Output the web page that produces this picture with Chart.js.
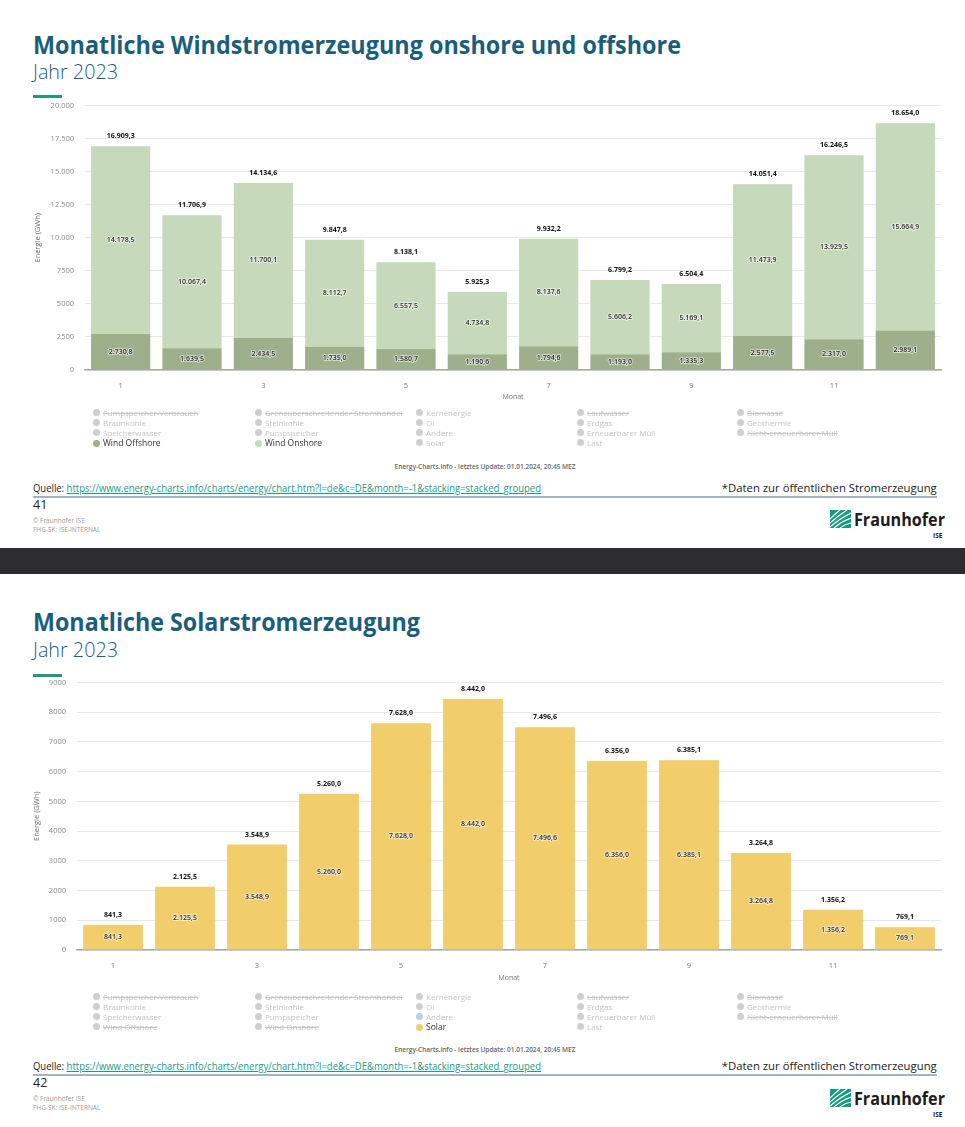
<!DOCTYPE html>
<html><head><meta charset="utf-8">
<script src="https://cdn.jsdelivr.net/npm/chart.js@4.4.1/dist/chart.umd.min.js"></script>
<style>
html,body{margin:0;padding:0;background:#fff;}
body{width:965px;height:1127px;position:relative;overflow:hidden;font-family:"Open Sans",sans-serif;}
.abs{position:absolute;white-space:nowrap;line-height:1;}
.title{font-weight:700;font-size:25px;color:#1b5e7c;transform-origin:left center;}
.sub{font-weight:300;font-size:20px;color:#1b5e7c;transform-origin:left center;}
.accent{height:3px;width:29px;background:#1f9b7a;}
.leg{font-size:8px;color:#c4c4c4;}
.leg .dot{display:inline-block;width:7px;height:7px;border-radius:50%;background:#cfcfcf;position:absolute;left:-10px;top:0px;}
.leg.on{color:#333;font-size:8.5px;}
.leg.strike{text-decoration:line-through;}
.credit{font-size:6.5px;font-weight:600;color:#666;transform:translateX(-50%);}
.src{font-size:11px;color:#222;transform-origin:left center;}
.src a{color:#1a9c84;text-decoration:underline;}
.note{font-size:11px;color:#222;transform-origin:right center;}
.rule{height:2px;background:#a3b3c1;left:33px;width:904px;}
.pnum{font-size:12.5px;color:#222;}
.copy{font-size:6.5px;color:#9a9a9a;}
.logo{font-weight:700;font-size:17.5px;color:#1c1c1c;transform-origin:left center;}
.ise{font-weight:700;font-size:6.5px;color:#1c1c1c;}
.band{left:0;width:965px;background:#2d2d30;}
canvas{position:absolute;}
</style>
</head><body>
<script>
// ---- data ----
const months = ['1','2','3','4','5','6','7','8','9','10','11','12'];
const windOffshore = [2730.8,1639.5,2434.5,1735.0,1580.7,1190.6,1794.6,1193.0,1335.3,2577.5,2317.0,2989.1];
const windOnshore  = [14178.5,10067.4,11700.1,8112.7,6557.5,4734.8,8137.6,5606.2,5169.1,11473.9,13929.5,15664.9];
const windTotal    = [16909.3,11706.9,14134.6,9847.8,8138.1,5925.3,9932.2,6799.2,6504.4,14051.4,16246.5,18654.0];
const solar        = [841.3,2125.5,3548.9,5260.0,7628.0,8442.0,7496.6,6356.0,6385.1,3264.8,1356.2,769.1];
const windTickMax = 20000, windTickStep = 2500;
const solarTickMax = 9000, solarTickStep = 1000;
const legendRows = [
  ['Pumpspeicher-Verbrauch','Grenzüberschreitender Stromhandel','Kernenergie','Laufwasser','Biomasse'],
  ['Braunkohle','Steinkohle','Öl','Erdgas','Geothermie'],
  ['Speicherwasser','Pumpspeicher','Andere','Erneuerbarer Müll','Nicht-erneuerbarer Müll'],
  ['Wind Offshore','Wind Onshore','Solar','Last']
];
const sourceUrl = 'https://www.energy-charts.info/charts/energy/chart.htm?l=de&c=DE&month=-1&stacking=stacked_grouped';

// ---- helpers ----
function groupDots(s){return s.replace(/\B(?=(\d{3})+(?!\d))/g,'.');}
function fmt1(v){const p=v.toFixed(1).split('.');return groupDots(p[0])+','+p[1];}
function fmtTick(v){return v>=10000?groupDots(String(v)):String(v);}
function el(cls,txt,style){const d=document.createElement('div');d.className='abs '+cls;if(txt!=null)d.textContent=txt;Object.assign(d.style,style||{});document.body.appendChild(d);return d;}
function fitW(d,w){const r=d.getBoundingClientRect().width;d.style.transform='scaleX('+(w/r)+')';}

const barLabels = {
  id:'barLabels',
  afterDatasetsDraw(chart,args,opts){
    const ctx=chart.ctx;
    chart.data.datasets.forEach((ds,di)=>{
      const meta=chart.getDatasetMeta(di);
      meta.data.forEach((bar,i)=>{
        const p=bar.getProps(['x','y','base'],true);
        const cy=(p.y+p.base)/2;
        ctx.save();
        ctx.font='600 7px "Open Sans"';
        ctx.textAlign='center';ctx.textBaseline='middle';
        ctx.lineJoin='round';
        ctx.strokeStyle='rgba(255,255,255,0.55)';ctx.lineWidth=2;
        const t=fmt1(ds.data[i]);
        ctx.strokeText(t,p.x,cy);
        ctx.fillStyle='#2a2a2a';ctx.fillText(t,p.x,cy);
        ctx.restore();
      });
    });
    const last=chart.getDatasetMeta(chart.data.datasets.length-1);
    last.data.forEach((bar,i)=>{
      const p=bar.getProps(['x','y'],true);
      ctx.save();
      ctx.font='700 7px "Open Sans"';
      ctx.textAlign='center';ctx.textBaseline='middle';
      ctx.fillStyle='#111';
      ctx.fillText(fmt1(opts.totals[i]),p.x,p.y-10);
      ctx.restore();
    });
  }
};

function makeChart(o){
  const c=document.createElement('canvas');
  c.width=965;c.height=o.h;c.style.left='0px';c.style.top=o.top+'px';
  c.style.width='965px';c.style.height=o.h+'px';
  document.body.appendChild(c);
  return new Chart(c.getContext('2d'),{
    type:'bar',
    data:{labels:months,datasets:o.datasets},
    plugins:[barLabels],
    options:{
      responsive:false,animation:false,devicePixelRatio:1,
      layout:{padding:{top:o.padTop,right:24,left:0,bottom:0}},
      datasets:{bar:{barPercentage:1,categoryPercentage:0.83,borderWidth:0}},
      plugins:{legend:{display:false},tooltip:{enabled:false},barLabels:{totals:o.totals}},
      scales:{
        x:{stacked:true,
          grid:{display:false,drawTicks:false},
          border:{display:true,color:'#a8a8a8',width:1.5},
          ticks:{autoSkip:false,maxRotation:0,padding:11,color:'#777',font:{size:7.5,family:'"Open Sans"'},
            callback:(v,i)=>i%2===0?months[i]:''},
          title:{display:true,text:'Monat',color:'#777',font:{size:7,family:'"Open Sans"'},padding:{top:0,bottom:o.monatPad}},
          afterFit:s=>{s.height=o.xh;}
        },
        y:{stacked:true,min:0,max:o.max,
          grid:{color:'#e8e8e8',lineWidth:1,drawTicks:false},
          border:{display:false},
          ticks:{stepSize:o.step,padding:11,color:'#8a8a8a',font:{size:7.5,family:'"Open Sans"'},callback:v=>fmtTick(v)},
          title:{display:true,text:'Energie (GWh)',color:'#666',font:{size:7.5,family:'"Open Sans"'},padding:{top:o.ytPad,bottom:0}},
          afterFit:s=>{s.width=o.yw;}
        }
      }
    }
  });
}

function legend(y0,active,strike,dotColors){
  const xs=[103,265,426,587,747], dy=[0,10,20,30];
  legendRows.forEach((row,r)=>row.forEach((name,ci)=>{
    const d=el('leg'+(active[name]?' on':'')+(strike.includes(name)?' strike':''),name,{left:xs[ci]+'px',top:(y0+dy[r]-4)+'px'});
    const dot=document.createElement('span');dot.className='dot';
    dot.style.background=active[name]||dotColors[name]||'#cfcfcf';
    dot.style.top=(active[name]?0.5:0)+'px';
    d.appendChild(dot);
  }));
}

function logo(y){
  const s=document.createElementNS('http://www.w3.org/2000/svg','svg');
  s.setAttribute('width','21');s.setAttribute('height','18');
  s.style.position='absolute';s.style.left='830px';s.style.top=y+'px';
  s.innerHTML='<rect x="0" y="0" width="21" height="18" fill="#179c7d"/>'+
   '<path d="M0 17 Q9 9 21 3 M0 13 Q8 6 17 0 M0 9 Q5 4 10 0 M4 18 Q12 11 21 8 M10 18 Q15 14 21 13" stroke="#fff" stroke-width="1.2" fill="none"/>';
  document.body.appendChild(s);
  const f=el('logo','Fraunhofer',{left:'854px',top:(y+1)+'px'});fitW(f,91);
  el('ise','ISE',{left:'933px',top:(y+23)+'px'});
}

function slide(s){
  const t=el('title',s.title,{left:'33px',top:s.titleTop+'px'});fitW(t,s.titleW);
  const j=el('sub','Jahr 2023',{left:'33px',top:s.subTop+'px'});fitW(j,85);
  el('accent',null,{left:'33px',top:s.accTop+'px'});
  el('credit','Energy-Charts.info - letztes Update: 01.01.2024, 20:45 MEZ',{left:'485px',top:s.creditTop+'px'});
  const q=el('src',null,{left:'33px',top:s.srcTop+'px'});
  q.innerHTML='Quelle: <a>'+sourceUrl.replace(/&/g,'&amp;')+'</a>';fitW(q,508);
  const n=el('note','*Daten zur öffentlichen Stromerzeugung',{right:'28px',top:s.srcTop+'px'});
  const r=n.getBoundingClientRect().width;n.style.transform='scaleX('+(215/r)+')';
  el('rule',null,{top:s.ruleTop+'px'});
  el('pnum',s.page,{left:'33px',top:s.pnTop+'px'});
  el('copy','© Fraunhofer ISE',{left:'33px',top:s.copyTop+'px'});
  el('copy','FHG-SK: ISE-INTERNAL',{left:'33px',top:(s.copyTop+9)+'px'});
  logo(s.logoTop);
}

// slide 1
slide({title:'Monatliche Windstromerzeugung onshore und offshore',titleW:648,titleTop:32,subTop:62,accTop:95,
  creditTop:464,srcTop:482,ruleTop:496,page:'41',pnTop:499,copyTop:518,logoTop:510});
makeChart({top:90,h:325,padTop:5,xh:45,yw:85,monatPad:14,ytPad:33,max:windTickMax,step:windTickStep,totals:windTotal,
  datasets:[
    {label:'Wind Offshore',data:windOffshore,backgroundColor:'#9db08b'},
    {label:'Wind Onshore',data:windOnshore,backgroundColor:'#c6d9bb'}
  ]});
legend(413,{'Wind Offshore':'#9db08b','Wind Onshore':'#c6d9bb'},
  ['Pumpspeicher-Verbrauch','Grenzüberschreitender Stromhandel','Laufwasser','Biomasse','Nicht-erneuerbarer Müll'],{});

// band
el('band',null,{top:'548px',height:'26px'});

// slide 2
slide({title:'Monatliche Solarstromerzeugung',titleW:387,titleTop:609,subTop:640,accTop:674,
  creditTop:1047,srcTop:1060,ruleTop:1074,page:'42',pnTop:1077,copyTop:1096,logoTop:1089});
makeChart({top:667,h:325,padTop:5,xh:42,yw:77,monatPad:10,ytPad:32,max:solarTickMax,step:solarTickStep,totals:solar,
  datasets:[{label:'Solar',data:solar,backgroundColor:'#f1cd6c'}]});
legend(997,{'Solar':'#f1cd6c'},
  ['Pumpspeicher-Verbrauch','Grenzüberschreitender Stromhandel','Laufwasser','Biomasse','Nicht-erneuerbarer Müll','Wind Offshore','Wind Onshore'],{'Andere':'#c3cbe0'});
</script>
</body></html>
